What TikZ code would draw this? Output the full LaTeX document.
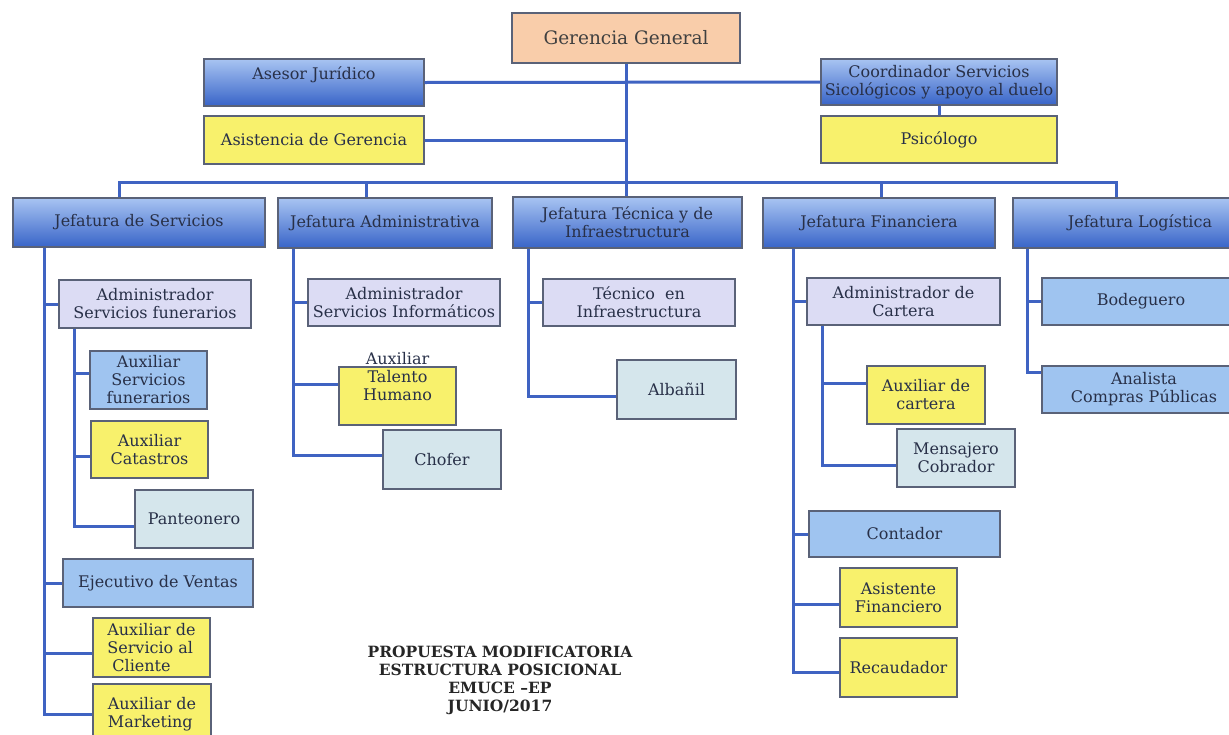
\documentclass[tikz,border=0pt]{standalone}
\usepackage{fontspec}
\setmainfont{DejaVu Serif}
\usetikzlibrary{calc}
\definecolor{ln}{HTML}{3F63C2}
\definecolor{bd}{HTML}{5A6278}
\definecolor{tx}{HTML}{283048}
\definecolor{orf}{HTML}{F9CDAA}
\definecolor{ylf}{HTML}{F8F16C}
\definecolor{lvf}{HTML}{DCDCF4}
\definecolor{lbf}{HTML}{9FC4F0}
\definecolor{plf}{HTML}{D5E6EC}
\definecolor{bgt}{HTML}{A8C4F2}
\definecolor{bgb}{HTML}{3864C8}
\tikzset{
 base/.style={draw=bd, line width=1.2pt, inner sep=0pt, align=center, text=tx, font=\fontsize{16}{18}\selectfont},
 orbox/.style={base, fill=orf, text=black!75, font=\fontsize{18.5}{20}\selectfont},
 ylbox/.style={base, fill=ylf},
 lvbox/.style={base, fill=lvf},
 lbbox/.style={base, fill=lbf},
 plbox/.style={base, fill=plf},
 bgbox/.style={base, top color=bgt, bottom color=bgb},
 txt/.style={inner sep=0pt, align=center, text=tx, font=\fontsize{16}{18}\selectfont},
 conn/.style={draw=ln, line width=3pt},
 ttl/.style={inner sep=0pt, align=center, text=black!85, font=\bfseries\fontsize{15.5}{18}\selectfont},
}
\newcommand\bnode[7]{\node[#1, minimum width={(#5-#3)*1pt}, minimum height={(#6-#4)*1pt}] (#2) at ({(#3+#5)/2},{(#4+#6)/2}) {#7};}
\begin{document}
\begin{tikzpicture}[x=1pt,y=-1pt]
\useasboundingbox (0,0) rectangle (1229,734);
\clip (0,0) rectangle (1229,734);
\fill[white] (0,0) rectangle (1229,734);
% top level
\bnode{orbox}{gg}{512}{13}{740}{63}{Gerencia General}
\bnode{bgbox}{aj}{204}{59}{424}{106}{Asesor Jurídico\\\mbox{}}
\bnode{bgbox}{cs}{821}{59}{1057}{105}{Coordinador Servicios\\Sicológicos y apoyo al duelo}
\bnode{ylbox}{ag}{204}{116}{424}{164}{Asistencia de Gerencia}
\bnode{ylbox}{ps}{821}{116}{1057}{163}{Psicólogo}
% jefaturas
\bnode{bgbox}{js}{13}{198}{265}{247}{Jefatura de Servicios}
\bnode{bgbox}{ja}{278}{198}{492}{248}{Jefatura Administrativa}
\bnode{bgbox}{jt}{513}{197}{742}{248}{Jefatura Técnica y de\\Infraestructura}
\bnode{bgbox}{jf}{763}{198}{995}{248}{Jefatura Financiera}
\bnode{bgbox}{jl}{1013}{198}{1267}{248}{Jefatura Logística}
% servicios
\bnode{lvbox}{asf}{59}{280}{251}{328}{Administrador\\Servicios funerarios}
\bnode{lbbox}{ausf}{90}{351}{207}{409}{Auxiliar\\Servicios\\funerarios}
\bnode{ylbox}{aucat}{91}{421}{208}{478}{Auxiliar\\Catastros}
\bnode{plbox}{pant}{135}{490}{253}{548}{Panteonero}
\bnode{lbbox}{ejv}{63}{559}{253}{607}{Ejecutivo de Ventas}
\bnode{ylbox,align=left}{ausc}{93}{618}{210}{677}{Auxiliar de\\Servicio al\\\ Cliente}
\bnode{ylbox,align=left}{aumk}{93}{684}{211}{745}{Auxiliar de\\Marketing}
% administrativa
\bnode{lvbox}{asi}{308}{279}{500}{326}{Administrador\\Servicios Informáticos}
\bnode{ylbox}{ath}{339}{367}{456}{425}{}
\node[txt] (athT) at ([yshift=19pt]ath.center) {Auxiliar\\Talento\\Humano};
\bnode{plbox}{chof}{383}{430}{501}{489}{Chofer}
% tecnica
\bnode{lvbox}{tei}{543}{279}{735}{326}{Técnico\ \ en\\Infraestructura}
\bnode{plbox}{alb}{617}{360}{736}{419}{Albañil}
% financiera
\bnode{lvbox}{adc}{807}{278}{1000}{325}{Administrador de\\Cartera}
\bnode{ylbox}{auc}{867}{366}{985}{424}{Auxiliar de\\cartera}
\bnode{plbox}{mc}{897}{429}{1015}{487}{Mensajero\\Cobrador}
\bnode{lbbox}{cont}{809}{511}{1000}{557}{Contador}
\bnode{ylbox}{asfin}{840}{568}{957}{627}{Asistente\\Financiero}
\bnode{ylbox}{rec}{840}{638}{957}{697}{Recaudador}
% logistica
\bnode{lbbox}{bod}{1042}{278}{1240}{325}{Bodeguero}
\bnode{lbbox}{ana}{1042}{366}{1246}{413}{Analista\\Compras Públicas}
% title
\node[ttl] (title) at (500,680) {PROPUESTA MODIFICATORIA\\ESTRUCTURA POSICIONAL\\EMUCE --EP\\JUNIO/2017};
% connectors top
\coordinate (barL) at (119,182);
\coordinate (barR) at (1116,182);
\coordinate (dA) at (366,182);
\coordinate (dF) at (881,182);
\draw[conn] (gg.south) -- (gg.south |- jt.north);
\draw[conn] (aj.east) -- (cs.west);
\draw[conn] (ag.east) -- (ag.east -| gg.south);
\draw[conn] (cs.south) -- (ps.north);
\draw[conn] (barL |- js.north) -- (barL) -- (barR) -- (barR |- jl.north);
\draw[conn] (dA) -- (dA |- ja.north);
\draw[conn] (dF) -- (dF |- jf.north);
% servicios
\coordinate (sv) at ([xshift=32pt]js.south west);
\coordinate (ssv) at ([xshift=16pt]asf.south west);
\draw[conn] (sv) |- (aumk.west);
\draw[conn] (asf.west) -- (asf.west -| sv);
\draw[conn] (ejv.west) -- (ejv.west -| sv);
\draw[conn] ([yshift=-5.5pt]ausc.west) -- ([yshift=-5.5pt]ausc.west -| sv);
\draw[conn] (ssv) |- ([yshift=-7pt]pant.west);
\draw[conn] ([yshift=7pt]ausf.west) -- ([yshift=7pt]ausf.west -| ssv);
\draw[conn] ([yshift=-6.5pt]aucat.west) -- ([yshift=-6.5pt]aucat.west -| ssv);
% administrativa
\coordinate (av) at ([xshift=16pt]ja.south west);
\draw[conn] (av) |- ([yshift=4.5pt]chof.west);
\draw[conn] (asi.west) -- (asi.west -| av);
\draw[conn] ([yshift=12pt]ath.west) -- ([yshift=12pt]ath.west -| av);
% tecnica
\coordinate (tv) at ([xshift=16pt]jt.south west);
\draw[conn] (tv) |- ([yshift=-6.5pt]alb.west);
\draw[conn] (tei.west) -- (tei.west -| tv);
% financiera
\coordinate (fv) at ([xshift=31pt]jf.south west);
\coordinate (sfv) at ([xshift=16pt]adc.south west);
\draw[conn] (fv) |- ([yshift=-4.5pt]rec.west);
\draw[conn] (adc.west) -- (adc.west -| fv);
\draw[conn] (cont.west) -- (cont.west -| fv);
\draw[conn] ([yshift=-6.5pt]asfin.west) -- ([yshift=-6.5pt]asfin.west -| fv);
\draw[conn] (sfv) |- ([yshift=-7pt]mc.west);
\draw[conn] ([yshift=12pt]auc.west) -- ([yshift=12pt]auc.west -| sfv);
% logistica
\coordinate (lv) at ([xshift=15pt]jl.south west);
\draw[conn] (lv) |- ([yshift=17.5pt]ana.west);
\draw[conn] (bod.west) -- (bod.west -| lv);
\end{tikzpicture}
\end{document}
